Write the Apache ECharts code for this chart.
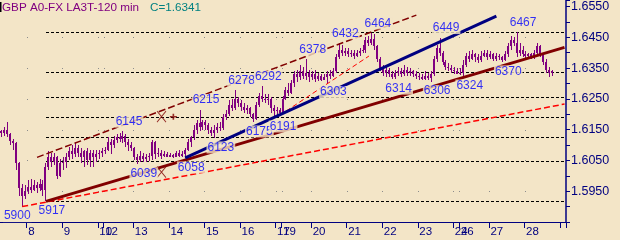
<!DOCTYPE html>
<html><head><meta charset="utf-8">
<script src="https://cdn.jsdelivr.net/npm/echarts@6/dist/echarts.min.js"></script>
<style>html,body{margin:0;padding:0;background:#F3E5C7;}#c{width:620px;height:240px;}</style>
</head><body><div id="c"></div>
<script>
// ---------- data (prices in pips: 6145 = 1.6145) ----------
const symbolName = 'GBP A0-FX LA3T-120 min';
const days       = [7, 8, 9, 10, 12, 13, 14, 15, 16, 17, 19, 20, 21, 22, 23, 24, 26, 27, 28, 29];
const barsPerDay = [9, 12, 12, 2, 10, 12, 12, 12, 12, 2, 10, 12, 12, 12, 12, 2, 10, 12, 12, 2];

const open = [6145,6140,6148,6135,6112,6105,6040,5960,5935,5950,
5965,5955,5970,5960,5975,5955,6030,6060,6045,6060,
6000,6040,6045,6060,6080,6070,6090,6075,6060,6080,
6050,6075,6060,6070,6075,6080,6085,6110,6100,6115,
6125,6120,6130,6110,6100,6090,6060,6050,6065,6055,
6060,6065,6110,6070,6075,6065,6070,6062,6068,6060,
6075,6065,6070,6085,6110,6125,6150,6170,6160,6175,
6165,6150,6140,6150,6160,6155,6190,6200,6230,6220,
6250,6235,6225,6215,6220,6200,6185,6230,6260,6250,
6245,6250,6220,6210,6215,6205,6250,6280,6270,6300,
6330,6320,6340,6325,6335,6320,6330,6315,6325,6310,
6320,6330,6325,6340,6385,6410,6400,6405,6395,6400,
6390,6400,6405,6410,6440,6430,6445,6420,6380,6350,
6335,6345,6330,6320,6335,6340,6330,6345,6335,6340,
6330,6325,6320,6315,6325,6318,6330,6380,6415,6400,
6370,6355,6350,6345,6340,6330,6335,6360,6390,6380,
6395,6385,6375,6390,6400,6385,6395,6380,6390,6385,
6375,6395,6420,6440,6430,6400,6410,6395,6390,6395,
6385,6400,6420,6395,6370,6345,6335];
const close = [6140,6148,6135,6112,6105,6040,5960,5935,5950,5965,
5955,5970,5960,5975,5955,6030,6060,6045,6060,6000,
6040,6045,6060,6080,6070,6090,6075,6060,6080,6050,
6075,6060,6070,6075,6080,6085,6110,6100,6115,6125,
6120,6130,6110,6100,6090,6060,6050,6065,6055,6060,
6065,6110,6070,6075,6065,6070,6062,6068,6060,6075,
6065,6070,6085,6110,6125,6150,6170,6160,6175,6165,
6150,6140,6150,6160,6155,6190,6200,6230,6220,6250,
6235,6225,6215,6220,6200,6185,6230,6260,6250,6245,
6250,6220,6210,6215,6205,6250,6280,6270,6300,6330,
6320,6340,6325,6335,6320,6330,6315,6325,6310,6320,
6330,6325,6340,6385,6410,6400,6405,6395,6400,6390,
6400,6405,6410,6440,6430,6445,6420,6380,6350,6335,
6345,6330,6320,6335,6340,6330,6345,6335,6340,6330,
6325,6320,6315,6325,6318,6330,6380,6415,6400,6370,
6355,6350,6345,6340,6330,6335,6360,6390,6380,6395,
6385,6375,6390,6400,6385,6395,6380,6390,6385,6375,
6395,6420,6440,6430,6400,6410,6395,6390,6395,6385,
6400,6420,6395,6370,6345,6335,6341];
const low = [6125,6130,6125,6100,6085,6020,5935,5900,5925,5940,
5945,5950,5945,5950,5935,5917,6020,6030,6035,5990,
5995,6020,6025,6050,6055,6060,6060,6040,6030,6035,
6030,6030,6045,6055,6060,6070,6080,6070,6090,6105,
6110,6105,6095,6080,6080,6050,6039,6045,6045,6045,
6048,6050,6055,6060,6055,6062,6060,6060,6059,6060,
6060,6060,6058,6080,6095,6115,6135,6145,6150,6150,
6135,6130,6123,6140,6145,6150,6180,6195,6210,6215,
6225,6210,6205,6200,6190,6175,6180,6225,6240,6235,
6230,6205,6195,6191,6200,6200,6245,6260,6265,6290,
6305,6310,6315,6310,6305,6310,6305,6308,6308,6310,
6303,6315,6320,6335,6380,6390,6390,6385,6385,6380,
6385,6390,6400,6400,6420,6425,6410,6370,6340,6325,
6320,6320,6314,6315,6325,6320,6325,6325,6325,6320,
6315,6310,6312,6310,6310,6306,6325,6370,6390,6360,
6345,6340,6335,6330,6330,6328,6324,6355,6370,6375,
6370,6365,6370,6385,6375,6378,6372,6372,6375,6370,
6372,6385,6410,6420,6385,6390,6385,6380,6380,6378,
6380,6395,6385,6360,6335,6320,6325];
const high = [6150,6160,6175,6140,6120,6110,6045,5975,5970,5985,
5990,5985,5980,5990,5985,6040,6080,6075,6075,6065,
6055,6060,6075,6095,6100,6105,6100,6090,6085,6090,
6085,6085,6085,6085,6090,6095,6125,6120,6130,6135,
6138,6145,6135,6120,6110,6095,6070,6080,6075,6070,
6075,6115,6112,6090,6085,6080,6078,6075,6072,6080,
6085,6080,6090,6120,6130,6165,6180,6215,6180,6180,
6170,6160,6165,6170,6175,6200,6215,6245,6250,6278,
6255,6245,6235,6230,6225,6205,6240,6270,6292,6265,
6265,6255,6230,6225,6220,6260,6290,6300,6310,6340,
6345,6360,6355,6378,6345,6340,6345,6335,6330,6330,
6340,6345,6350,6395,6432,6425,6415,6415,6410,6410,
6410,6415,6425,6450,6455,6464,6460,6425,6385,6360,
6355,6350,6340,6345,6355,6350,6360,6355,6350,6345,
6340,6335,6330,6340,6335,6340,6390,6425,6449,6405,
6375,6365,6360,6355,6350,6350,6375,6400,6405,6410,
6400,6395,6405,6410,6410,6405,6400,6400,6395,6390,
6405,6430,6455,6450,6467,6430,6420,6405,6400,6400,
6410,6430,6425,6400,6380,6355,6345];

const pivotBars   = [7, 15, 41, 46, 62, 67, 72, 79, 85, 88, 93, 103, 110, 114, 125, 132, 145, 148, 156, 169, 174];
const pivotPrices = [5900, 5917, 6145, 6039, 6058, 6215, 6123, 6278, 6175, 6292, 6191, 6378, 6303, 6432, 6464, 6314, 6306, 6449, 6324, 6370, 6467];
const pivotKinds  = ['L','L','H','L','L','H','L','H','L','H','L','H','L','H','H','L','L','H','L','L','H'];

const fibLevels   = [6467, 6337, 6257, 6192, 6127, 6047, 5917];
const fibStartBar = 15;

const priceTicks = [5950, 6050, 6150, 6250, 6350, 6450, 6550];

const supportMain  = [[15, 5917], [190, 6417]];
const supportFast  = [[62, 6058], [167, 6519]];
const channelUpper = [[12, 6060], [140, 6522]];
const channelLower = [[7, 5900], [190, 6233]];
const shortTrend   = [[96, 6210], [124, 6389]];
const crossMarks   = [[54, 6192], [54, 6012]];
const plusMarks    = [[58, 6192]];

// ---------- style ----------
const BG = '#F3E5C7';
const FONT = 'Liberation Sans';
const labelOffsetDefault = [6, 0];
const labelOffsetSpecial = { 5900: [-5, 0] };   // keep edge label from colliding with its neighbour

// ---------- build ----------
const categories = [], tickBars = new Set(), labelBars = new Set(), dayLabel = {};
let n = 0;
days.forEach((d, k) => {
  for (let j = 0; j < barsPerDay[k]; j++) {
    categories.push(d + '/' + j);
    if (j === 0 && k > 0) {
      tickBars.add(n);
      if (k < days.length - 1) { labelBars.add(n); dayLabel[n] = String(d); }
    }
    n++;
  }
});
const toPrice = v => (1 + v / 10000).toFixed(4);

const dots = [];
labelBars.forEach(b => priceTicks.filter(p => p < 6500).forEach(p => dots.push([b, p])));

function lineSeries(data, color, width, type, z) {
  return { type: 'line', data, symbol: 'none', silent: true, z: z || 3,
    lineStyle: { color, width, type: type || 'solid' }, animation: false };
}

const series = [];
series.push({
  type: 'custom', z: 1, silent: true, data: fibLevels.map(lv => [fibStartBar, lv]), encode: { x: 0, y: 1 },
  renderItem: (params, api) => {
    const p = api.coord([api.value(0), api.value(1)]);
    const cs = params.coordSys;
    const y = Math.round(p[1]) + 0.5;
    return { type: 'line', shape: { x1: Math.round(p[0]), y1: y, x2: cs.x + cs.width, y2: y },
      style: { stroke: '#000000', lineWidth: 1, lineDash: [3, 2] } };
  }
});
series.push({
  type: 'custom', z: 1, silent: true, data: dots, encode: { x: 0, y: 1 },
  renderItem: (params, api) => {
    const p = api.coord([api.value(0), api.value(1)]);
    const bw = api.size([1, 0])[0];
    return { type: 'rect', shape: { x: Math.round(p[0] - bw / 2), y: Math.round(p[1]), width: 1, height: 1 }, style: { fill: '#8c8c8c' } };
  }
});
series.push({
  type: 'custom', z: 2, silent: true,
  data: open.map((o, i) => [i, o, close[i], low[i], high[i]]),
  encode: { x: 0, y: [1, 2, 3, 4] },
  renderItem: (params, api) => {
    const x = api.value(0);
    const pO = api.coord([x, api.value(1)]), pC = api.coord([x, api.value(2)]);
    const pL = api.coord([x, api.value(3)]), pH = api.coord([x, api.value(4)]);
    const cx = Math.floor(pO[0]);
    const top = Math.round(Math.min(pO[1], pC[1]));
    const bot = Math.round(Math.max(pO[1], pC[1]));
    return { type: 'group', children: [
      { type: 'rect', shape: { x: cx, y: Math.round(pH[1]), width: 1, height: Math.max(1, Math.round(pL[1]) - Math.round(pH[1])) }, style: { fill: '#800080' } },
      { type: 'rect', shape: { x: cx - 1, y: top, width: 2, height: Math.max(1, bot - top) }, style: { fill: '#800080' } }
    ] };
  }
});
series.push(lineSeries(channelLower, '#FF0000', 1.5, [6, 3], 3));
series.push(lineSeries(shortTrend, '#FF0000', 1, [5, 3], 3));
series.push(lineSeries(channelUpper, '#800000', 1.5, [7, 3], 3));
series.push(lineSeries(supportMain, '#800000', 3, 'solid', 3));
series.push(lineSeries(supportFast, '#000080', 3, 'solid', 3));
series.push({
  type: 'scatter', z: 5, silent: true, data: crossMarks,
  symbol: 'path://M0 0L9 11M9 0L0 11', symbolSize: [9, 11],
  itemStyle: { color: 'transparent', borderColor: '#800000', borderWidth: 1 }
});
series.push({
  type: 'scatter', z: 5, silent: true, data: plusMarks,
  symbol: 'path://M0 3L7 3M3.5 0L3.5 6', symbolSize: [7, 6],
  itemStyle: { color: 'transparent', borderColor: '#800000', borderWidth: 1.5 }
});
series.push({
  type: 'scatter', z: 6, silent: true, symbolSize: 1,
  itemStyle: { color: 'transparent' },
  data: pivotBars.map((b, i) => ({ value: [b, pivotPrices[i]],
    label: { position: pivotKinds[i] === 'H' ? 'top' : 'bottom', offset: labelOffsetSpecial[pivotPrices[i]] || labelOffsetDefault } })),
  label: { show: true, formatter: p => String(p.value[1]), color: '#0000FF', fontSize: 12, fontFamily: FONT,
    distance: 3, backgroundColor: BG, padding: [0, 1], lineHeight: 12 }
});

const chart = echarts.init(document.getElementById('c'), null, { renderer: 'canvas' });
chart.setOption({
  animation: false,
  backgroundColor: BG,
  title: [
    { text: symbolName, left: 2, top: 2, padding: 0, textStyle: { color: '#800080', fontSize: 11.7, fontWeight: 'normal', fontFamily: FONT } },
    { text: 'C=' + toPrice(close[close.length - 1]), left: 150, top: 2, padding: 0, textStyle: { color: '#008080', fontSize: 11.7, fontWeight: 'normal', fontFamily: FONT } }
  ],
  graphic: [{ type: 'rect', left: 0, top: 2, shape: { width: 1.5, height: 10 }, style: { fill: '#000' } }],
  grid: { left: 0, right: 54, top: 0, bottom: 18, containLabel: false, outerBoundsMode: 'none' },
  xAxis: {
    type: 'category', data: categories, boundaryGap: true,
    axisLine: { show: true, lineStyle: { color: '#000080', width: 1 } },
    axisTick: { show: true, interval: i => tickBars.has(i), length: 6, lineStyle: { color: '#000080' } },
    axisLabel: { interval: i => labelBars.has(i), formatter: (v, i) => dayLabel[i] || '', align: 'left', margin: 4,
      color: '#000080', fontSize: 11.5, fontFamily: FONT },
    splitLine: { show: false }
  },
  yAxis: {
    type: 'value', position: 'right', min: 5850, max: 6571, interval: 50,
    axisLine: { show: true, lineStyle: { color: '#000080', width: 1.5 } },
    axisTick: { show: true, length: 4, lineStyle: { color: '#000080' } },
    axisLabel: { formatter: v => (priceTicks.indexOf(v) >= 0 ? toPrice(v) : ''), margin: 5, color: '#000080', fontSize: 12.5, fontFamily: FONT },
    splitLine: { show: false }
  },
  series
});
</script></body></html>
